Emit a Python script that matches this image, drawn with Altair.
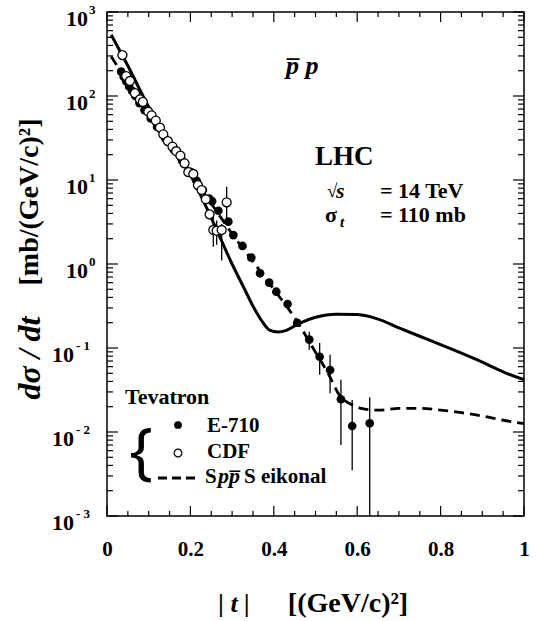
import altair as alt
import pandas as pd

# ---------------- data ----------------
# E-710 (filled circles)
e710_t = [0.034, 0.040, 0.046, 0.053, 0.060, 0.068, 0.078, 0.090, 0.105, 0.120,
          0.140, 0.160, 0.180, 0.200, 0.215, 0.230, 0.245, 0.252, 0.267, 0.291,
          0.303, 0.325, 0.346, 0.367, 0.389, 0.406, 0.433, 0.456, 0.485, 0.510,
          0.535, 0.561, 0.588, 0.630]
e710_y = [195, 170, 150, 130, 115, 100, 82, 68, 54, 43,
          31, 23, 17, 12.5, 9.8, 7.6, 6.0, 5.6, 4.3, 3.19,
          2.21, 1.64, 1.19, 0.775, 0.60, 0.468, 0.334, 0.20, 0.126, 0.0787,
          0.0547, 0.0245, 0.0118, 0.0127]
# E-710 error bars
e710_err_t = [0.485, 0.510, 0.535, 0.561, 0.588, 0.630]
e710_err_hi = [0.156, 0.115, 0.083, 0.042, 0.024, 0.026]
e710_err_lo = [0.095, 0.048, 0.029, 0.0070, 0.0035, 0.001]

# CDF (open circles)
cdf_t = [0.037, 0.046, 0.055, 0.067, 0.079, 0.086, 0.099, 0.107, 0.117, 0.127,
         0.135, 0.146, 0.157, 0.166, 0.176, 0.186, 0.195, 0.207, 0.218, 0.227,
         0.237, 0.246, 0.255, 0.263, 0.275, 0.287]
cdf_y = [307, 173, 151, 108, 91, 85, 65, 59, 51, 42,
         35, 29, 25, 22, 19.5, 15.8, 12.4, 11.8, 8.7, 7.6,
         5.9, 3.9, 2.54, 2.49, 2.54, 5.43]
cdf_err_t = [0.255, 0.263, 0.275, 0.287]
cdf_err_hi = [4.0, 3.3, 3.0, 8.3]
cdf_err_lo = [1.6, 1.7, 1.1, 3.3]

# LHC prediction (solid)
lhc_t = [0.01, 0.05, 0.10, 0.15, 0.20, 0.25, 0.30, 0.33, 0.35, 0.37, 0.39, 0.41,
         0.43, 0.46, 0.50, 0.55, 0.60, 0.65, 0.70, 0.75, 0.80, 0.85, 0.90, 0.95, 1.00]
lhc_y = [537, 229, 74, 28.8, 11.5, 3.55, 1.0, 0.50, 0.316, 0.214, 0.163, 0.155,
         0.162, 0.195, 0.232, 0.253, 0.250, 0.221, 0.174, 0.138, 0.110, 0.087,
         0.068, 0.052, 0.042]

# SppS eikonal (dashed)
eik_t = [0.01, 0.05, 0.10, 0.15, 0.20, 0.25, 0.30, 0.35, 0.40, 0.45, 0.50, 0.53,
         0.56, 0.585, 0.61, 0.65, 0.70, 0.75, 0.80, 0.85, 0.90, 0.95, 1.00]
eik_y = [295, 145, 63, 28.2, 11.7, 5.25, 2.29, 1.07, 0.50, 0.229, 0.089, 0.050,
         0.0263, 0.0214, 0.0191, 0.0182, 0.0191, 0.0191, 0.0182, 0.0170, 0.0155,
         0.0138, 0.0126]

# axis ticks / labels
x_major = [0.0, 0.2, 0.4, 0.6, 0.8, 1.0]
x_minor = [0.05, 0.1, 0.15, 0.25, 0.3, 0.35, 0.45, 0.5, 0.55, 0.65, 0.7, 0.75,
           0.85, 0.9, 0.95]
y_major = [1e-3, 1e-2, 1e-1, 1.0, 10.0, 100.0, 1000.0]
y_exp = ["- 3", "- 2", "- 1", "0", "1", "2", "3"]
y_minor = [m * 10.0 ** k for k in range(-3, 3) for m in range(2, 10)]

# ---------------- chart ----------------
W, H = 417, 504
SERIF = "Liberation Serif"
xs = alt.Scale(domain=[0, 1], nice=False, zero=False)
ys = alt.Scale(type="log", domain=[0.001, 1000], nice=False)
xaxis = alt.Axis(values=x_major, ticks=False, domain=False, grid=False, title=None,
                 labelExpr="datum.value == 0 ? '0' : datum.value == 1 ? '1' : format(datum.value, '.1f')",
                 labelFont=SERIF, labelFontSize=21, labelFontWeight="bold",
                 labelColor="black", labelPadding=22, labelFlush=False,
                 labelOverlap=False)

def X(field):
    return alt.X(f"{field}:Q", scale=xs, axis=xaxis)

def Y(field):
    return alt.Y(f"{field}:Q", scale=ys, axis=None)

dummy = pd.DataFrame({"k": [0]})

def label(txt, x, y, size, style="normal", align="left", baseline="alphabetic",
          angle=0, weight="bold", font=SERIF):
    return alt.Chart(dummy).mark_text(
        text=txt, fontSize=size, fontWeight=weight, fontStyle=style, align=align,
        baseline=baseline, font=font, angle=angle, color="black"
    ).encode(x=alt.value(x), y=alt.value(y))

layers = []

# ticks
xmaj = pd.DataFrame({"t": x_major})
xmin = pd.DataFrame({"t": x_minor})
ymaj = pd.DataFrame({"v": y_major})
ymin = pd.DataFrame({"v": y_minor})
tk = dict(color="black", strokeWidth=1.2)
for df, ln in [(xmaj, 10), (xmin, 5)]:
    layers.append(alt.Chart(df).mark_rule(**tk).encode(x=X("t"), y=alt.value(H), y2=alt.value(H - ln)))
    layers.append(alt.Chart(df).mark_rule(**tk).encode(x=X("t"), y=alt.value(0), y2=alt.value(ln)))
for df, ln in [(ymaj, 11), (ymin, 6)]:
    layers.append(alt.Chart(df).mark_rule(**tk).encode(y=Y("v"), x=alt.value(0), x2=alt.value(ln)))
    layers.append(alt.Chart(df).mark_rule(**tk).encode(y=Y("v"), x=alt.value(W), x2=alt.value(W - ln)))

# curves
lhc = pd.DataFrame({"t": lhc_t, "y": lhc_y})
eik = pd.DataFrame({"t": eik_t, "y": eik_y})
layers.append(alt.Chart(lhc).mark_line(color="black", strokeWidth=3, interpolate="monotone").encode(x=X("t"), y=Y("y")))
layers.append(alt.Chart(eik).mark_line(color="black", strokeWidth=2.8, strokeDash=[10, 6], interpolate="monotone").encode(x=X("t"), y=Y("y")))

# error bars
e_err = pd.DataFrame({"t": e710_err_t, "hi": e710_err_hi, "lo": e710_err_lo})
c_err = pd.DataFrame({"t": cdf_err_t, "hi": cdf_err_hi, "lo": cdf_err_lo})
for df in (e_err, c_err):
    layers.append(alt.Chart(df).mark_rule(color="black", strokeWidth=1.3).encode(x=X("t"), y=Y("hi"), y2="lo:Q"))

# points
e710 = pd.DataFrame({"t": e710_t, "y": e710_y})
cdf = pd.DataFrame({"t": cdf_t, "y": cdf_y})
layers.append(alt.Chart(e710).mark_point(shape="circle", filled=True, color="black", size=75, opacity=1).encode(x=X("t"), y=Y("y")))
layers.append(alt.Chart(cdf).mark_point(shape="circle", filled=True, fill="white", stroke="black", strokeWidth=1.3, size=80, opacity=1).encode(x=X("t"), y=Y("y")))

# y tick labels (10^n)
ylab = pd.DataFrame({"v": y_major, "e": y_exp})
layers.append(alt.Chart(ylab).transform_calculate(xp="datum.v < 1 ? -33 : -19").mark_text(
    text="10", align="right", baseline="alphabetic", dy=13.5, font=SERIF, fontSize=22,
    fontWeight="bold", color="black").encode(x=alt.X("xp:Q", scale=None), y=Y("v")))
layers.append(alt.Chart(ylab).transform_calculate(xp="datum.v < 1 ? -31 : -18").mark_text(
    align="left", baseline="alphabetic", dy=1.5, font=SERIF, fontSize=13,
    fontWeight="bold", color="black").encode(x=alt.X("xp:Q", scale=None), y=Y("v"), text="e:N"))

# annotations
layers += [
    label("p\u0305  p", 179, 62, 26, style="italic"),
    label("LHC", 208, 153, 27),
    label("\u221a", 220, 185, 19),
    label("s", 229, 186, 22, style="italic"),
    label("= 14 TeV", 273, 186, 22),
    label("\u03c3", 218, 210, 22),
    label("t", 233, 215, 15, style="italic"),
    label("= 110 mb", 273, 210, 22),
    label("Tevatron", 18, 392, 22),
    label("{", 34, 441, 62, weight="normal", align="center", baseline="middle", font="Noto Sans"),
    label("E-710", 100, 420, 21),
    label("CDF", 100, 446, 21),
    label("S", 98, 471, 21),
    label("pp\u0305", 111, 471, 22, style="italic"),
    label("S eikonal", 137, 471, 21),
    label("| t |", 127, 600, 26, style="italic", align="center"),
    label("[(GeV/c)\u00b2]", 241, 600, 28, align="center"),
    label("d\u03c3 / dt", -77, 346, 32, style="italic", align="center", baseline="middle", angle=270),
    label("[mb/(GeV/c)\u00b2]", -77, 190, 28, align="center", baseline="middle", angle=270),
]
layers.append(alt.Chart(dummy).mark_point(shape="circle", filled=True, color="black", size=60, opacity=1).encode(x=alt.value(71), y=alt.value(413)))
layers.append(alt.Chart(dummy).mark_point(shape="circle", filled=True, fill="white", stroke="black", strokeWidth=1.2, size=60, opacity=1).encode(x=alt.value(71), y=alt.value(441)))
layers.append(alt.Chart(dummy).mark_rule(color="black", strokeWidth=2.8, strokeDash=[9, 5]).encode(x=alt.value(51), x2=alt.value(92), y=alt.value(466)))

chart = alt.layer(*layers).properties(
    width=W, height=H, autosize="none",
    padding={"left": 107, "top": 12, "right": 13, "bottom": 105},
    background="white",
).configure_view(stroke="black", strokeWidth=1.5)

chart.save("out.html", embed_options={"renderer": "svg", "actions": False})
